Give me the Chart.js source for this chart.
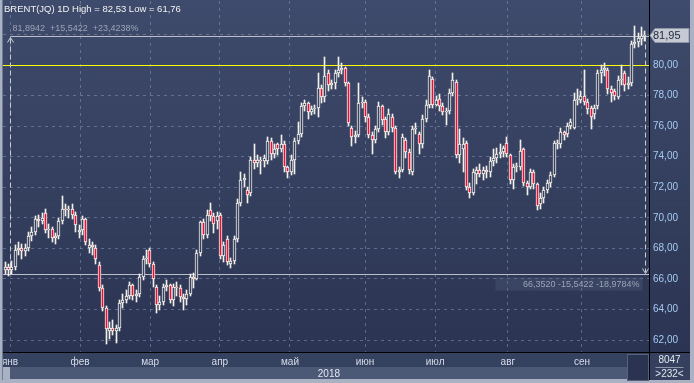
<!DOCTYPE html>
<html>
<head>
<meta charset="utf-8">
<script src="https://cdn.jsdelivr.net/npm/chart.js@4/dist/chart.umd.min.js"></script>
<style>
  html, body { margin: 0; padding: 0; background: #a9b1c2; }
  #wrap { width: 694px; height: 383px; }
</style>
</head>
<body>
<div id="wrap"><canvas id="chart" width="694" height="383"></canvas></div>
<script>
'use strict';

/* ─── Data: BRENT(JQ) daily candles, Jan–Sep 2018 ───────────────── */
const open = [
  66.6,66.8,66.6,66.8,67.9,68.0,67.8,68.0,68.8,69.1,
  69.9,69.8,70.3,69.2,69.3,68.7,68.8,69.8,70.6,70.5,
  70.6,70.2,69.1,69.2,69.9,68.0,68.2,68.0,66.9,65.4,
  64.1,62.6,62.8,62.6,62.8,64.4,64.6,64.9,65.6,64.9,
  65.0,66.1,67.3,67.9,67.0,65.5,64.3,64.5,65.5,65.6,
  64.6,65.5,65.4,64.8,64.7,65.0,66.1,66.0,67.7,69.7,
  68.9,70.5,70.1,69.8,70.2,67.5,68.6,67.0,67.2,68.6,
  71.0,72.5,71.8,71.6,73.8,73.6,73.8,73.7,73.7,75.0,
  74.2,74.8,74.5,74.8,73.3,73.0,73.8,75.0,75.5,77.3,
  77.5,76.9,77.1,77.2,78.5,77.9,79.5,78.7,78.8,79.5,
  79.7,79.8,78.8,75.9,75.3,75.4,77.5,77.6,76.6,75.4,
  75.1,75.8,77.3,76.5,75.6,76.6,75.9,73.0,73.1,75.1,
  74.3,73.0,75.8,75.5,74.8,76.5,77.4,79.1,77.4,77.8,
  77.3,76.9,77.0,78.2,78.9,74.1,74.5,74.9,72.0,71.6,
  72.9,73.1,72.9,73.1,73.0,73.7,73.9,74.2,74.3,74.9,
  74.1,72.5,73.3,73.3,74.5,72.3,72.0,73.0,72.2,70.9,
  71.3,71.8,72.3,72.8,74.8,74.8,75.6,75.5,76.0,75.9,
  77.7,77.7,78.0,77.6,77.2,76.8,77.3,79.5,79.7,79.7,
  78.4,78.3,77.9,79.0,79.5,78.7,78.8,81.4,81.5,81.7,
  81.9
];
const high = [
  67.1,67.0,67.2,68.2,68.4,68.3,68.3,69.1,69.4,70.1,
  70.2,70.3,70.6,69.6,69.4,69.0,70.0,71.4,70.9,70.8,
  70.9,70.4,69.5,70.1,70.0,68.6,68.4,68.2,67.1,65.6,
  64.2,63.2,63.3,63.0,64.6,65.0,65.3,65.8,65.7,65.3,
  66.3,67.5,67.9,68.0,67.1,65.6,64.9,65.7,65.9,65.7,
  65.7,65.8,65.6,65.0,65.3,66.3,66.4,67.9,69.8,69.9,
  70.5,71.0,70.3,70.4,70.3,68.4,68.8,67.4,68.8,71.2,
  73.0,72.9,72.0,74.0,74.8,74.1,74.0,74.1,75.3,75.2,
  74.8,74.9,75.4,75.0,73.4,74.1,75.2,76.3,77.5,77.7,
  77.6,77.3,77.4,79.5,78.7,80.5,79.7,79.0,79.7,80.5,
  80.1,79.9,78.9,76.0,75.7,78.8,77.9,77.7,76.8,75.6,
  76.0,77.6,77.4,76.6,77.1,76.8,76.0,73.3,75.5,75.2,
  74.5,76.0,76.2,75.6,76.7,77.7,79.7,79.2,78.0,78.1,
  77.5,77.2,78.4,79.5,79.0,75.8,75.2,75.0,72.3,73.2,
  73.3,73.5,73.3,73.4,74.0,74.5,74.6,74.8,74.7,75.3,
  74.2,73.5,73.6,75.1,74.6,72.4,73.2,73.1,72.3,71.6,
  72.0,72.5,73.0,75.0,75.1,75.9,75.7,76.2,76.5,78.2,
  78.4,78.3,79.7,77.8,77.3,77.4,79.7,80.0,80.1,79.8,
  78.6,78.4,79.3,80.0,79.6,79.2,81.6,82.53,82.1,82.5,
  82.2
];
const low = [
  66.3,66.2,66.3,66.6,67.6,67.3,67.5,67.8,68.5,68.9,
  69.4,69.6,69.0,68.7,68.4,68.3,68.6,69.6,70.1,70.0,
  69.9,69.1,68.7,68.9,68.2,67.7,67.6,67.0,65.2,63.9,
  61.76,62.1,62.3,61.8,62.6,64.1,64.4,64.7,64.6,64.5,
  64.8,65.9,67.0,66.8,65.5,63.8,64.0,64.3,65.2,64.4,
  64.2,64.9,64.5,64.0,64.3,64.9,65.4,65.9,67.5,68.6,
  68.7,69.8,69.0,69.3,67.3,67.1,66.9,66.7,67.0,68.4,
  70.8,72.0,71.0,71.4,73.2,73.3,72.9,73.3,73.5,73.8,
  73.9,74.1,74.3,73.0,72.6,72.8,72.9,74.8,75.3,77.0,
  76.5,76.7,76.8,76.6,77.5,77.6,78.3,78.4,78.4,79.2,
  79.4,78.6,76.0,74.7,74.9,75.3,77.2,76.3,75.2,74.2,
  74.9,75.6,76.1,75.2,75.4,75.6,72.9,72.6,73.0,73.9,
  72.9,72.8,75.5,74.2,74.6,76.3,77.2,77.2,77.3,77.0,
  76.7,76.1,76.8,78.0,73.9,73.6,73.0,71.8,71.3,71.5,
  72.2,72.7,72.5,72.6,72.7,73.4,73.6,73.9,74.0,74.0,
  72.2,71.9,73.0,73.1,72.1,71.5,71.9,71.9,70.5,70.6,
  71.0,71.6,72.0,72.7,74.5,74.6,75.1,75.3,75.8,75.8,
  77.4,77.5,77.4,76.8,75.8,76.5,77.1,78.8,79.3,78.1,
  77.6,77.7,77.8,78.7,78.3,78.4,78.6,81.1,81.2,81.3,
  81.6
];
const close = [
  66.8,66.6,66.8,67.9,68.0,67.8,68.0,68.8,69.1,69.9,
  69.8,70.0,69.2,69.3,68.7,68.8,69.8,70.6,70.5,70.6,
  70.2,69.5,69.2,69.9,68.4,68.2,68.1,67.3,65.4,64.1,
  62.7,62.8,62.6,62.8,64.4,64.6,64.9,65.6,64.9,65.0,
  66.1,67.3,67.4,67.0,66.0,64.3,64.5,65.5,65.6,64.6,
  65.5,65.4,64.8,64.7,65.0,66.1,66.0,67.7,69.7,68.9,
  70.2,70.1,69.6,70.1,67.5,68.2,67.1,67.2,68.6,71.0,
  72.5,72.6,71.5,73.8,73.6,73.8,73.7,73.9,75.0,74.2,
  74.5,74.5,74.8,73.3,73.0,73.8,75.0,75.5,77.3,77.5,
  76.9,77.1,77.2,78.5,77.9,79.3,78.7,78.8,79.5,79.7,
  79.8,78.8,76.2,75.3,75.4,77.5,77.6,76.6,75.4,75.1,
  75.8,77.3,76.4,75.6,76.8,75.9,73.0,73.1,75.3,74.3,
  73.1,75.8,75.9,74.8,76.5,77.4,79.3,77.4,77.7,77.3,
  76.9,77.0,78.2,79.0,74.1,74.8,74.8,72.0,71.6,73.0,
  73.1,72.9,73.1,73.0,73.7,73.9,74.2,74.3,74.6,74.2,
  72.5,73.3,73.4,74.4,72.3,72.0,73.0,72.2,70.8,71.3,
  71.8,72.3,72.8,74.9,74.9,75.6,75.4,76.0,76.3,77.7,
  77.8,78.0,77.6,77.1,76.6,77.2,79.5,79.7,79.8,78.4,
  78.2,78.0,79.0,79.1,78.7,78.8,81.4,81.5,81.8,81.9,
  81.95
];

/* month starts, in candle index units */
const monthNames  = ['янв','фев','мар','апр','май','июн','июл','авг','сен'];
const monthStarts = [1.5, 22.3, 43.1, 63.8, 84.6, 106.9, 127.7, 149.3, 171.3];
const priceTicks  = [62, 64, 66, 68, 70, 72, 74, 76, 78, 80, 82];

const levelLine   = 80;          // yellow horizontal
const measureTop  = 81.8942;
const measureBot  = 66.3520;
const lastPrice   = 81.95;

const FONT = '"Liberation Sans", Arial, sans-serif';
const fmt  = v => v.toFixed(2).replace('.', ',');

/* ─── Panels / frame / overlays ─────────────────────────────────── */
const backdrop = {
  id: 'backdrop',
  beforeDraw(chart) {
    const { ctx, width, height, chartArea: a } = chart;
    ctx.save();
    ctx.fillStyle = '#a9b1c2';
    ctx.fillRect(0, 0, width, height);

    const g = ctx.createLinearGradient(0, 0, 0, a.bottom);
    g.addColorStop(0, '#3f4b6c');
    g.addColorStop(1, '#2b3452');
    ctx.fillStyle = g;
    ctx.fillRect(2, 0, width - 6, a.bottom);

    // month row + year row
    ctx.fillStyle = '#35425f';
    ctx.fillRect(2, a.bottom, a.right - 2, 15);
    ctx.fillStyle = '#4b5876';
    ctx.fillRect(10, a.bottom + 15, a.right - 30, 12);
    ctx.fillStyle = '#2a3450';
    ctx.fillRect(a.right - 21, a.bottom + 3, 20, 25);
    ctx.strokeStyle = '#55617d';
    ctx.strokeRect(a.right - 21.5, a.bottom + 2.5, 21, 26);

    // bottom-right box
    ctx.fillStyle = '#34405e';
    ctx.fillRect(a.right + 1, a.bottom, width - a.right - 5, 28);
    ctx.restore();
  },
  beforeDatasetsDraw(chart) {
    const { ctx, chartArea: a, scales: { x, y } } = chart;

    /* snap candle elements to whole pixels so they stay crisp */
    chart.data.datasets.forEach((_, di) => {
      chart.getDatasetMeta(di).data.forEach(el => {
        el.x = Math.floor(el.x) + 0.5;
        el.y = Math.round(el.y);
        el.base = Math.round(el.base);
      });
    });

    ctx.save();
    // level line
    const yl = Math.round(y.getPixelForValue(levelLine)) + 0.5;
    ctx.strokeStyle = '#ffff00';
    ctx.lineWidth = 1;
    ctx.beginPath(); ctx.moveTo(a.left, yl); ctx.lineTo(a.right, yl); ctx.stroke();

    // measure lines
    const x0 = Math.round(x.getPixelForValue(monthStarts[0])) + 0.5;
    const x1 = a.right - 3.5;
    const yt = Math.round(y.getPixelForValue(measureTop)) + 0.5;
    const yb = Math.round(y.getPixelForValue(measureBot)) + 0.5;
    ctx.strokeStyle = '#b9bec9';
    ctx.beginPath();
    ctx.moveTo(x0, yt); ctx.lineTo(a.right, yt);
    ctx.moveTo(a.left, yb); ctx.lineTo(a.right, yb);
    ctx.stroke();

    ctx.setLineDash([5, 3]);
    ctx.strokeStyle = '#c9cdd6';
    ctx.beginPath();
    ctx.moveTo(x0, yt + 2); ctx.lineTo(x0, yb);
    ctx.moveTo(x1, yt); ctx.lineTo(x1, yb - 2);
    ctx.stroke();
    ctx.setLineDash([]);
    ctx.beginPath();
    ctx.moveTo(x0 - 3, yt + 6); ctx.lineTo(x0, yt + 1); ctx.lineTo(x0 + 3, yt + 6);
    ctx.moveTo(x1 - 3, yb - 6); ctx.lineTo(x1, yb - 1); ctx.lineTo(x1 + 3, yb - 6);
    ctx.stroke();

    // subtle band under the lower label
    ctx.fillStyle = 'rgba(90,105,135,0.25)';
    ctx.fillRect(x1 - 150, yb + 3, 147, 13);

    ctx.font = '9px ' + FONT;
    ctx.fillStyle = '#9ca4b6';
    ctx.textBaseline = 'middle';
    ctx.textAlign = 'left';
    ctx.fillText('81,8942  +15,5422  +23,4238%', x0 + 2, yt - 8);
    ctx.textAlign = 'right';
    ctx.fillText('66,3520 -15,5422 -18,9784%', x1 - 6, yb + 10);
    ctx.restore();
  },
  afterDraw(chart) {
    const { ctx, width, chartArea: a, scales: { y } } = chart;
    ctx.save();
    // frame lines
    ctx.strokeStyle = '#000';
    ctx.lineWidth = 1;
    ctx.beginPath();
    ctx.moveTo(a.right + 0.5, 0); ctx.lineTo(a.right + 0.5, a.bottom + 28);
    ctx.moveTo(2, a.bottom + 0.5); ctx.lineTo(width - 4, a.bottom + 0.5);
    ctx.stroke();
    ctx.strokeStyle = '#6f7b96';
    ctx.beginPath();
    ctx.moveTo(2.5, 0); ctx.lineTo(2.5, a.bottom + 28);
    ctx.stroke();

    // header
    ctx.font = '9.5px ' + FONT;
    ctx.fillStyle = '#f2f2f2';
    ctx.textBaseline = 'middle';
    ctx.textAlign = 'left';
    ctx.fillText('BRENT(JQ) 1D High = 82,53 Low = 61,76', 4, 9);

    // last price tag
    const yp = Math.round(y.getPixelForValue(lastPrice));
    const bx = a.right + 6, bw = width - bx - 5;
    ctx.fillStyle = '#c6cad3';
    ctx.strokeStyle = '#8d95a6';
    ctx.beginPath();
    ctx.moveTo(a.right + 1, yp + 0.5);
    ctx.lineTo(bx, yp - 6.5);
    ctx.lineTo(bx + bw, yp - 6.5);
    ctx.lineTo(bx + bw, yp + 7.5);
    ctx.lineTo(bx, yp + 7.5);
    ctx.closePath();
    ctx.fill(); ctx.stroke();
    ctx.fillStyle = '#1c2640';
    ctx.font = '11px ' + FONT;
    ctx.fillText(fmt(lastPrice), a.right + 4, yp + 1);

    // year
    ctx.font = '10px ' + FONT;
    ctx.fillStyle = '#e2e6ee';
    ctx.textAlign = 'right';
    ctx.fillText('2018', 340, a.bottom + 22);

    // bottom-right counters
    const cx = (a.right + width - 4) / 2;
    ctx.textAlign = 'center';
    ctx.fillText('8047', cx, a.bottom + 8);
    ctx.fillText('>232<', cx, a.bottom + 22);
    ctx.strokeStyle = '#8e97aa';
    ctx.beginPath();
    ctx.moveTo(cx - 14, a.bottom + 15.5); ctx.lineTo(cx + 14, a.bottom + 15.5);
    ctx.stroke();
    ctx.restore();
  }
};

/* ─── Chart ─────────────────────────────────────────────────────── */
const idx = open.map((_, i) => i);
const isDown = i => close[i] < open[i];

new Chart(document.getElementById('chart'), {
  type: 'bar',
  data: {
    datasets: [
      {
        label: 'wick',
        data: idx.map(i => ({ x: i, y: [low[i], high[i]] })),
        backgroundColor: '#f3efe9',
        barThickness: 1,
        grouped: false,
        order: 2,
      },
      {
        label: 'body',
        data: idx.map(i => ({ x: i, y: [open[i], close[i]] })),
        backgroundColor: ctx => isDown(ctx.dataIndex) ? '#e3123b' : '#35415f',
        borderColor: '#f6f2ec',
        borderWidth: 1,
        borderSkipped: false,
        barThickness: 3,
        grouped: false,
        order: 1,
      }
    ]
  },
  options: {
    responsive: false,
    devicePixelRatio: 1,
    animation: false,
    layout: { padding: { left: 3, top: 1, right: 0, bottom: 0 } },
    plugins: { legend: { display: false }, tooltip: { enabled: false } },
    scales: {
      x: {
        type: 'linear',
        offset: false,
        min: -0.594, max: 191.2,
        afterBuildTicks: s => { s.ticks = monthStarts.map(v => ({ value: v })); },
        afterFit: s => { s.height = 31; s.paddingLeft = 0; s.paddingRight = 0; },
        grid: { color: 'rgba(140,155,190,0.5)', drawTicks: false, offset: false },
        border: { display: false, dash: [3, 4] },
        ticks: {
          autoSkip: false, maxRotation: 0, padding: 4,
          color: '#d6dcea', font: { family: FONT, size: 10 },
          callback: (v, i) => monthNames[i]
        }
      },
      y: {
        position: 'right',
        min: 61.22, max: 84.19,
        afterBuildTicks: s => { s.ticks = priceTicks.map(v => ({ value: v })); },
        afterFit: s => { s.width = 45; s.paddingTop = 0; s.paddingBottom = 0; },
        grid: { color: 'rgba(140,155,190,0.5)', drawTicks: false },
        border: { display: false, dash: [3, 4] },
        ticks: {
          padding: 4, color: '#a6cbf3', font: { family: FONT, size: 10 },
          callback: v => fmt(v)
        }
      }
    }
  },
  plugins: [backdrop]
});
</script>
</body>
</html>
